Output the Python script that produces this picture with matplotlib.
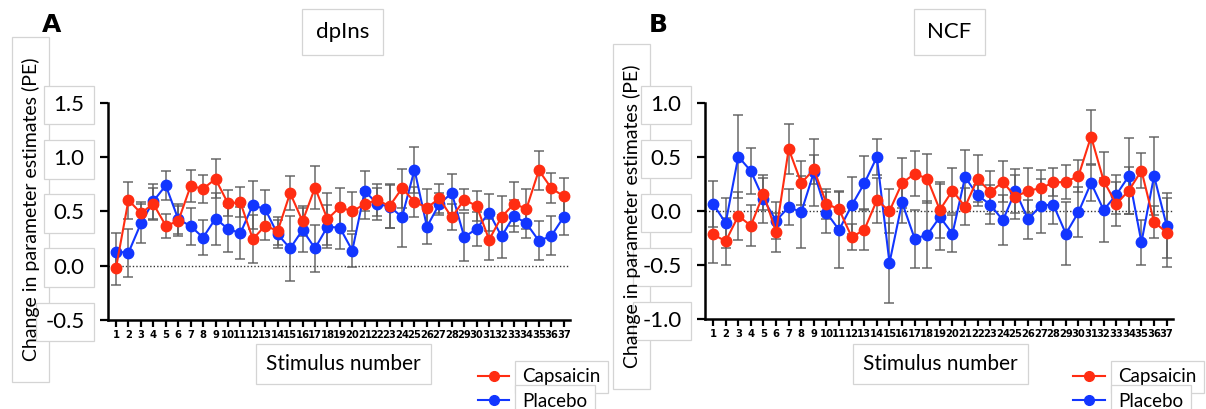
import numpy as np
import matplotlib
matplotlib.use("Agg")
import matplotlib.pyplot as plt
from matplotlib.patches import Rectangle

plt.rcParams['font.family'] = ['Lato', 'DejaVu Sans']

stimuli = list(range(1, 38))

# panel A: dpIns
cap_A = [-0.02, 0.605, 0.485, 0.57, 0.37, 0.41, 0.735, 0.71, 0.80, 0.575, 0.585, 0.245, 0.37,
         0.32, 0.67, 0.41, 0.72, 0.43, 0.54, 0.50, 0.57, 0.605, 0.55, 0.715, 0.59, 0.535,
         0.62, 0.445, 0.61, 0.55, 0.24, 0.45, 0.57, 0.525, 0.88, 0.715, 0.64]
cap_A_err = [0.16, 0.17, 0.10, 0.15, 0.11, 0.14, 0.15, 0.13, 0.18, 0.12, 0.14, 0.22, 0.13,
             0.13, 0.16, 0.14, 0.20, 0.24, 0.18, 0.18, 0.14, 0.15, 0.20, 0.18, 0.14, 0.17,
             0.13, 0.12, 0.10, 0.14, 0.19, 0.19, 0.20, 0.185, 0.18, 0.14, 0.17]
pla_A = [0.13, 0.12, 0.39, 0.595, 0.74, 0.43, 0.365, 0.26, 0.435, 0.34, 0.30, 0.56, 0.52,
         0.29, 0.16, 0.33, 0.16, 0.36, 0.35, 0.14, 0.69, 0.57, 0.545, 0.45, 0.885, 0.36,
         0.57, 0.67, 0.265, 0.34, 0.49, 0.27, 0.46, 0.39, 0.23, 0.275, 0.45]
pla_A_err = [0.17, 0.22, 0.18, 0.16, 0.13, 0.14, 0.17, 0.16, 0.24, 0.21, 0.24, 0.22, 0.18,
             0.13, 0.30, 0.20, 0.22, 0.20, 0.20, 0.15, 0.185, 0.15, 0.20, 0.28, 0.21, 0.16,
             0.10, 0.18, 0.22, 0.155, 0.17, 0.20, 0.15, 0.135, 0.18, 0.18, 0.17]

# panel B: NCF
cap_B = [-0.215, -0.28, -0.045, -0.135, 0.16, -0.195, 0.575, 0.26, 0.385, 0.068, 0.015,
         -0.24, -0.175, 0.10, 0.0, 0.26, 0.345, 0.30, 0.01, 0.19, 0.04, 0.30, 0.175, 0.27,
         0.13, 0.19, 0.21, 0.265, 0.27, 0.325, 0.69, 0.28, 0.065, 0.19, 0.375, -0.10, -0.20]
cap_B_err = [0.265, 0.22, 0.22, 0.19, 0.15, 0.18, 0.23, 0.20, 0.13, 0.14, 0.17, 0.12, 0.19,
             0.21, 0.20, 0.23, 0.21, 0.23, 0.26, 0.21, 0.17, 0.22, 0.20, 0.19, 0.20, 0.21,
             0.17, 0.13, 0.16, 0.145, 0.25, 0.27, 0.20, 0.22, 0.165, 0.15, 0.32]
pla_B = [0.065, -0.11, 0.505, 0.37, 0.11, -0.09, 0.037, -0.01, 0.36, -0.015, -0.175, 0.052,
         0.256, 0.50, -0.48, 0.08, -0.256, -0.22, -0.055, -0.21, 0.315, 0.145, 0.06, -0.086,
         0.185, -0.077, 0.05, 0.06, -0.21, -0.01, 0.26, 0.01, 0.15, 0.325, -0.29, 0.325, -0.135]
pla_B_err = [0.21, 0.23, 0.38, 0.21, 0.22, 0.17, 0.17, 0.33, 0.31, 0.19, 0.35, 0.26, 0.25,
             0.17, 0.37, 0.19, 0.27, 0.31, 0.31, 0.17, 0.25, 0.10, 0.18, 0.23, 0.20, 0.18,
             0.25, 0.18, 0.29, 0.23, 0.17, 0.30, 0.18, 0.35, 0.21, 0.36, 0.30]

RED = '#ff2d12'
BLUE = '#1236ff'
EDGE = '#d4d4d4'


def box(pad):
    return dict(boxstyle='square,pad=%s' % pad, facecolor='white', edgecolor=EDGE, linewidth=0.9)


fig = plt.figure(figsize=(12.06, 4.09), dpi=100)
W, H = 1206.0, 409.0


def panel(rect, cap, cap_err, pla, pla_err, yticks, title, letter, letter_x,
          title_x, xlab_x, ylab_box, leg_x):
    # text box behind the rotated y label (pixel extents)
    x0, y0, x1, y1 = ylab_box
    fig.add_artist(Rectangle((x0 / W, 1 - y1 / H), (x1 - x0) / W, (y1 - y0) / H,
                             transform=fig.transFigure, facecolor='white',
                             edgecolor=EDGE, linewidth=0.9, zorder=0))
    fig.text((x0 + x1) / 2 / W, 1 - (y0 + y1) / 2 / H, 'Change in parameter estimates (PE)',
             rotation=90, ha='center', va='center', fontsize=14, zorder=1)

    ax = fig.add_axes(rect)
    ax.patch.set_alpha(0)
    ax.axhline(0, color='#333333', linestyle=(0, (1, 1.5)), linewidth=1, zorder=1)
    for vals, errs in [(pla, pla_err), (cap, cap_err)]:
        ax.errorbar(stimuli, vals, yerr=errs, fmt='none', ecolor='#5a5a5a', elinewidth=1.1,
                    capsize=3.5, capthick=1.1, zorder=2, alpha=0.9)
    l_cap, = ax.plot(stimuli, cap, '-o', color=RED, markersize=7.5, linewidth=1.5, zorder=4)
    l_pla, = ax.plot(stimuli, pla, '-o', color=BLUE, markersize=7.5, linewidth=1.5, zorder=3)

    ax.set_xlim(0.36, 37.5)
    ax.set_ylim(yticks[0], yticks[-1])
    ax.set_xticks(stimuli)
    ax.set_xticklabels([str(s) for s in stimuli], fontsize=7.2, fontweight='bold',
                       family='DejaVu Sans')
    ax.set_yticks(yticks)
    ax.set_yticklabels(['%.1f' % v for v in yticks], fontsize=16)
    for t in ax.get_yticklabels():
        t.set_bbox(box(0.42))
    for s in ['top', 'right']:
        ax.spines[s].set_visible(False)
    for s in ['left', 'bottom']:
        ax.spines[s].set_linewidth(1.8)
    ax.tick_params(axis='x', length=5, width=1.6, pad=2)
    ax.tick_params(axis='y', length=6, width=1.6, pad=11)

    fig.text(letter_x, 0.94, letter, fontsize=18, fontweight='bold',
             family='DejaVu Sans', ha='left', va='center', zorder=2)
    fig.text(title_x, 0.922, title, fontsize=16, ha='center', va='center', bbox=box(0.6))
    fig.text(xlab_x, 0.11, 'Stimulus number', fontsize=15, ha='center', va='center',
             bbox=box(0.5))
    leg = fig.legend([l_cap, l_pla], ['Capsaicin', 'Placebo'], loc='upper left',
                     bbox_to_anchor=(leg_x, 0.10), frameon=False, fontsize=13.5,
                     handlelength=1.7, handletextpad=0.7, labelspacing=0.4,
                     borderaxespad=0, borderpad=0)
    for h in leg.legend_handles:
        h.set_markersize(7)
    for t in leg.get_texts():
        t.set_bbox(box(0.4))
    return ax


panel([0.0896, 0.2176, 0.383, 0.5306], cap_A, cap_A_err, pla_A, pla_A_err,
      [-0.5, 0.0, 0.5, 1.0, 1.5], 'dpIns', 'A', 0.035, 0.284, 0.285,
      (12, 37, 49, 382), 0.396)
panel([0.5846, 0.22, 0.388, 0.528], cap_B, cap_B_err, pla_B, pla_B_err,
      [-1.0, -0.5, 0.0, 0.5, 1.0], 'NCF', 'B', 0.538, 0.787, 0.78,
      (613, 44, 650, 389), 0.89)

fig.savefig('out.png', dpi=100)
